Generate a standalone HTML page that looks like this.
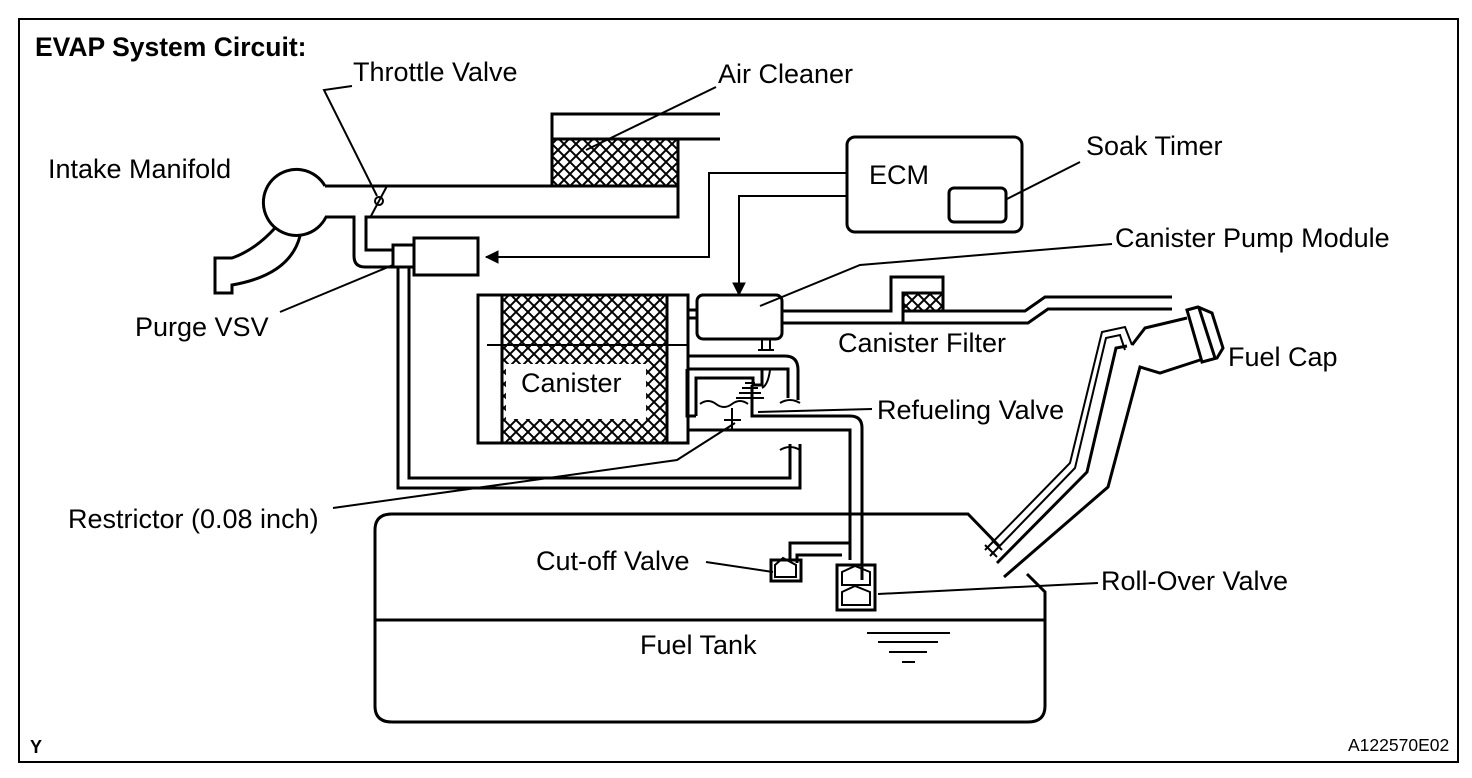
<!DOCTYPE html>
<html><head><meta charset="utf-8"><style>
html,body{margin:0;padding:0;background:#fff}
svg{display:block}
text{font-family:"Liberation Sans",Arial,sans-serif;font-size:27px;fill:#000}
</style></head><body>
<svg width="1472" height="778" viewBox="0 0 1472 778" xmlns="http://www.w3.org/2000/svg">
<defs>
<pattern id="h" width="12" height="12" patternUnits="userSpaceOnUse">
<rect width="12" height="12" fill="#fff"/>
<path d="M0 0L12 12M12 0L0 12" stroke="#000" stroke-width="2"/>
</pattern>
</defs>
<rect x="19" y="19" width="1439" height="743" fill="none" stroke="#000" stroke-width="2"/>
<g fill="none" stroke="#000" stroke-width="3" stroke-linejoin="miter">
<rect x="552" y="139" width="126" height="47" fill="url(#h)"/>
<path d="M720 114H552V139H720"/>
<path d="M325 186H678V217H366V250H393"/>
<path d="M325 217H354V256Q354 267 365 267H393"/>
<path d="M325 186A33 33 0 1 0 326 217" />
<path d="M275 228Q255 250 232 258H215V293H232V285Q290 275 300 236"/>
<circle cx="379" cy="201" r="4" stroke-width="2"/>
<path d="M371 216L387 186" stroke-width="2"/>
<rect x="393" y="245" width="21" height="22"/>
<rect x="414" y="238" width="64" height="37"/>
<path d="M398 267V488H800V444" />
<path d="M409 267V478H790V444"/>
<rect x="847" y="137" width="175" height="95" rx="8"/>
<rect x="949" y="188" width="57" height="34" rx="5"/>
<path d="M847 173H709V257H486" stroke-width="2"/>
<path d="M486 257l12-6v12z" fill="#000" stroke-width="1"/>
<path d="M847 196H739V285" stroke-width="2"/>
<path d="M739 295l-6-12h12z" fill="#000" stroke-width="1"/>
<rect x="478" y="295" width="210" height="148"/>
<rect x="502" y="295" width="165" height="148" fill="url(#h)"/>
<rect x="502" y="295" width="165" height="148"/>
<rect x="506" y="364" width="140" height="55" fill="#fff" stroke="none"/>
<path d="M487 345H688" stroke-width="2"/>
<rect x="697" y="295" width="85" height="44" rx="6"/>
<path d="M688 310H697M688 318H697" />
<path d="M782 311H891V277H943V311H1025L1045 297H1172"/>
<path d="M782 323H903V293H943M903 323H1028L1048 309H1172"/>
<rect x="903" y="293" width="40" height="18" fill="url(#h)"/>
<path d="M762 339V350M770 339V350M758 350H774" stroke-width="2"/>
<path d="M688 356H785Q798 356 798 370V400"/>
<path d="M687 369H788V398"/>
<path d="M687 369V416H696"/>
<path d="M696 416V378H753V385H762V370" />
<path d="M752 385V416H850Q862 416 862 428V580"/>
<path d="M687 430H850V560"/>
<path d="M700 404q8-6 16 0t16 0t16 0" stroke-width="2"/>
<path d="M745 383h10M742 388h16M739 393h22M736 398h28" stroke-width="2"/>
<path d="M724 420H741M732 408V430" stroke-width="2"/>
<path d="M770 370q-2 15 -8 18" stroke-width="2"/>
<path d="M780 403q10-6 20 0" stroke-width="2"/>
<path d="M780 450q10-6 20 0" stroke-width="2"/>
<path d="M985 550L1070 463L1102 332L1125 327L1132 345" stroke-width="2"/>
<path d="M990 556L1075 468L1106 338L1120 335L1125 350" stroke-width="2"/>
<path d="M997 563L1087 472L1116 348L1127 346"/>
<path d="M1004 577L1108 487L1140 367L1160 373L1200 360"/>
<path d="M1132 345L1145 328L1187 318"/>
<path d="M1187 310L1198 307L1212 313L1223 348L1217 358L1202 362Z"/>
<path d="M1199 308L1215 358"/>
<path d="M992 540L1002 550M985 545L997 557" stroke-width="2"/>
<path d="M1000 547L968 514H392Q375 514 375 530V706Q375 722 392 722H1028Q1045 722 1045 706V592L1027 574"/>
<path d="M375 620H1045"/>
<path d="M867 633H950M878 642H938M889 652H927M902 662H915" stroke-width="2"/>
<path d="M790 560V543H850"/>
<path d="M797 563V555H842"/>
<rect x="771" y="560" width="30" height="21"/>
<path d="M775 577V565L783 558L796 565V577Z" stroke-width="2"/>
<rect x="837" y="565" width="38" height="45"/>
<path d="M842 585V572L855 566L870 572V585Z M842 605V592L855 586L870 592V605Z" stroke-width="2"/>
</g>
<g stroke="#000" stroke-width="2" fill="none">
<path d="M352 86L324 90L377 196"/>
<path d="M716 87L586 150"/>
<path d="M1080 162L1005 200"/>
<path d="M1112 244L860 265L760 306"/>
<path d="M872 409L758 412"/>
<path d="M333 508L677 460L735 423"/>
<path d="M706 562L773 572"/>
<path d="M1098 583L878 594"/>
<path d="M280 312L393 265"/>
</g>
<text x="35" y="56" style="font-weight:bold;font-size:26.5px">EVAP System Circuit:</text>
<text x="353" y="81">Throttle Valve</text>
<text x="718" y="83">Air Cleaner</text>
<text x="48" y="178">Intake Manifold</text>
<text x="869" y="184">ECM</text>
<text x="1086" y="155">Soak Timer</text>
<text x="1115" y="247">Canister Pump Module</text>
<text x="135" y="336">Purge VSV</text>
<text x="838" y="352">Canister Filter</text>
<text x="1228" y="366">Fuel Cap</text>
<text x="521" y="392">Canister</text>
<text x="877" y="419">Refueling Valve</text>
<text x="68" y="528">Restrictor (0.08 inch)</text>
<text x="536" y="570">Cut-off Valve</text>
<text x="1101" y="590">Roll-Over Valve</text>
<text x="640" y="654">Fuel Tank</text>
<text x="30" y="753" style="font-size:18px;font-weight:bold">Y</text>
<text x="1348" y="751" style="font-size:17.5px">A122570E02</text>
</svg>
</body></html>
